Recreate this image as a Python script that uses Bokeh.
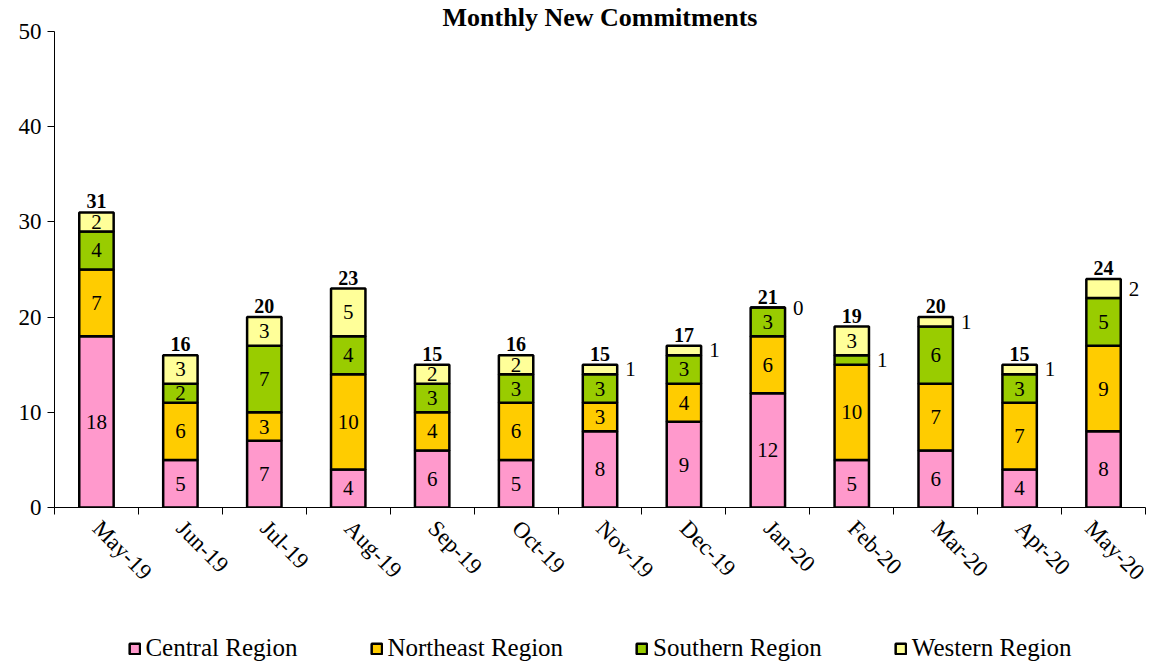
import math
from bokeh.plotting import figure
from bokeh.layouts import column
from bokeh.models import FixedTicker, Range1d, ColumnDataSource, Legend, LegendItem
from bokeh.embed import file_html
from bokeh.resources import INLINE
from bokeh.core.properties import value

months = ["May-19", "Jun-19", "Jul-19", "Aug-19", "Sep-19", "Oct-19", "Nov-19",
          "Dec-19", "Jan-20", "Feb-20", "Mar-20", "Apr-20", "May-20"]
central = [18, 5, 7, 4, 6, 5, 8, 9, 12, 5, 6, 4, 8]
northeast = [7, 6, 3, 10, 4, 6, 3, 4, 6, 10, 7, 7, 9]
southern = [4, 2, 7, 4, 3, 3, 3, 3, 3, 1, 6, 3, 5]
western = [2, 3, 3, 5, 2, 2, 1, 1, 0, 3, 1, 1, 2]
series_names = ["Central Region", "Northeast Region", "Southern Region", "Western Region"]
colors = ["#FF99CC", "#FFCC00", "#99CC00", "#FFFF99"]
# (series index, month index) whose value label sits right of the bar
outside_labels = {(3, 6), (3, 7), (3, 8), (3, 10), (3, 11), (3, 12), (2, 9)}

FONT = "Liberation Serif"
series = [central, northeast, southern, western]
keys = ["c", "n", "s", "w"]
xs = [i + 0.5 for i in range(len(months))]
totals = [sum(v) for v in zip(*series)]
BAR_W = 0.41

src = ColumnDataSource(dict(x=xs, c=central, n=northeast, s=southern, w=western))

p = figure(frame_width=1091, frame_height=476, x_range=Range1d(0, len(months)), y_range=Range1d(0, 50),
           output_backend="svg", toolbar_location=None,
           min_border_left=54, min_border_right=4, min_border_top=0, min_border_bottom=0,
           title="Monthly New Commitments")
p.title.align = "center"
p.title.text_font = FONT
p.title.text_font_size = "26px"
p.title.text_font_style = "bold"
p.title.text_color = "black"
p.title.standoff = 0
p.xgrid.visible = False
p.ygrid.visible = False
p.outline_line_color = None

rs = p.vbar_stack(keys, x="x", width=BAR_W, source=src, fill_color=colors,
                  line_color="black", line_width=2.5)

# segment labels
in_x, in_y, in_t = [], [], []
out_x, out_y, out_t = [], [], []
for i in range(len(months)):
    base = 0
    for si, vals in enumerate(series):
        v = vals[i]
        mid = base + v / 2
        if (si, i) in outside_labels:
            out_x.append(xs[i] + BAR_W / 2)
            out_y.append(mid)
            out_t.append(str(v))
        else:
            in_x.append(xs[i])
            in_y.append(mid)
            in_t.append(str(v))
        base += v

p.text(x=in_x, y=in_y, text=in_t, text_align="center", text_baseline="middle",
       text_font=value(FONT), text_font_size="21px", text_color="black")
p.text(x=out_x, y=out_y, text=out_t, text_align="left", text_baseline="middle",
       x_offset=8, text_font=value(FONT), text_font_size="21px", text_color="black")
p.text(x=xs, y=totals, text=[str(t) for t in totals], text_align="center",
       text_baseline="bottom", y_offset=-4, text_font=value(FONT),
       text_font_size="20px", text_font_style="bold", text_color="black")

# x axis
xa = p.xaxis[0]
xa.ticker = FixedTicker(ticks=xs, minor_ticks=list(range(len(months) + 1)))
xa.major_label_overrides = {x: m for x, m in zip(xs, months)}
xa.major_tick_line_color = None
xa.minor_tick_in = 0
xa.minor_tick_out = 7
xa.minor_tick_line_color = "black"
xa.axis_line_color = "black"
xa.major_label_orientation = -math.pi / 4
xa.major_label_text_font = FONT
xa.major_label_text_font_size = "23px"
xa.major_label_text_color = "black"
xa.major_label_standoff = 10

# y axis
ya = p.yaxis[0]
ya.ticker = FixedTicker(ticks=[0, 10, 20, 30, 40, 50])
ya.major_tick_in = 0
ya.major_tick_out = 7
ya.minor_tick_line_color = None
ya.axis_line_color = "black"
ya.major_tick_line_color = "black"
ya.major_label_text_font = FONT
ya.major_label_text_font_size = "23px"
ya.major_label_text_color = "black"
ya.major_label_standoff = 6

# legend strip in its own small figure
lf = figure(width=1149, height=66, output_backend="svg", toolbar_location=None,
            min_border=0, min_border_left=30, x_range=Range1d(0, 1), y_range=Range1d(0, 1))
lf.axis.visible = False
lf.grid.visible = False
lf.outline_line_color = None
dummy = [lf.vbar(x=[float("nan")], top=[float("nan")], width=1, fill_color=c,
                 line_color="black", line_width=2.5)
         for c in colors]
legend = Legend(items=[LegendItem(label=n, renderers=[r]) for n, r in zip(series_names, dummy)],
                orientation="horizontal", location="bottom_center", spacing=72,
                glyph_width=13, glyph_height=13, label_standoff=5,
                label_text_font=FONT, label_text_font_size="25px", label_text_color="black",
                border_line_color=None, background_fill_alpha=0, padding=0, margin=0)
lf.add_layout(legend, "center")

open("out.html", "w").write(file_html(column(p, lf), INLINE))
